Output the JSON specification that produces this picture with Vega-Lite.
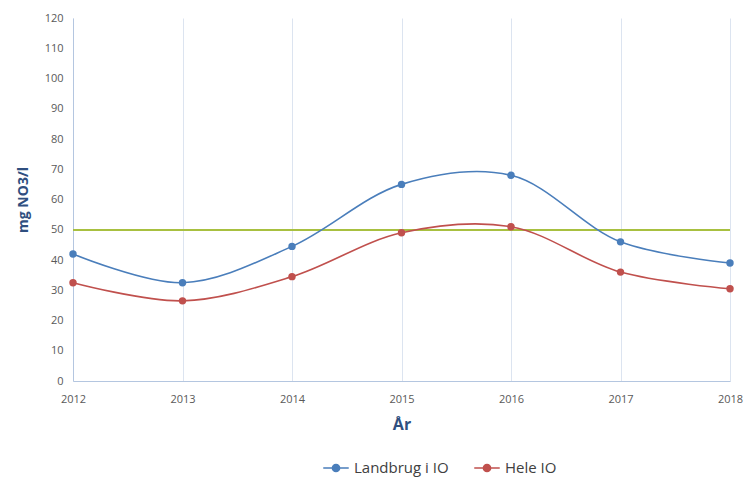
{
  "$schema": "https://vega.github.io/schema/vega-lite/v6.json",
  "width": 657,
  "height": 363,
  "autosize": {"type": "none"},
  "padding": {"left": 73, "top": 18, "right": 16, "bottom": 104},
  "background": "white",
  "config": {
    "view": {"stroke": null},
    "font": "Open Sans",
    "axis": {
      "labelFont": "Open Sans",
      "labelFontSize": 11,
      "labelColor": "#595959",
      "titleFont": "Open Sans",
      "titleColor": "#2f4f7f",
      "titleFontWeight": "bold",
      "gridColor": "#dce4f0",
      "gridWidth": 1,
      "domainColor": "#b4c6e0",
      "ticks": false
    }
  },
  "data": {
    "values": [
      {"year": 2012, "series": "Landbrug i IO", "value": 42},
      {"year": 2013, "series": "Landbrug i IO", "value": 32.5},
      {"year": 2014, "series": "Landbrug i IO", "value": 44.5},
      {"year": 2015, "series": "Landbrug i IO", "value": 65},
      {"year": 2016, "series": "Landbrug i IO", "value": 68},
      {"year": 2017, "series": "Landbrug i IO", "value": 46},
      {"year": 2018, "series": "Landbrug i IO", "value": 39},
      {"year": 2012, "series": "Hele IO", "value": 32.5},
      {"year": 2013, "series": "Hele IO", "value": 26.5},
      {"year": 2014, "series": "Hele IO", "value": 34.5},
      {"year": 2015, "series": "Hele IO", "value": 49},
      {"year": 2016, "series": "Hele IO", "value": 51},
      {"year": 2017, "series": "Hele IO", "value": 36},
      {"year": 2018, "series": "Hele IO", "value": 30.5}
    ]
  },
  "layer": [
    {
      "mark": {"type": "rule", "color": "#a8c040", "strokeWidth": 1.6},
      "encoding": {
        "y": {
          "datum": 50,
          "type": "quantitative",
          "scale": {"domain": [0, 120], "nice": false},
          "axis": {"values": [0, 10, 20, 30, 40, 50, 60, 70, 80, 90, 100, 110, 120], "title": "mg NO3/l", "titleFontSize": 14, "titlePadding": 14, "labelPadding": 10, "labelOverlap": false}
        }
      }
    },
    {
      "mark": {"type": "line", "interpolate": "catmull-rom", "strokeWidth": 1.6, "point": {"filled": true, "size": 55, "opacity": 1}},
      "encoding": {
        "x": {
          "field": "year",
          "type": "quantitative",
          "scale": {"domain": [2012, 2018], "nice": false, "zero": false},
          "axis": {"values": [2012, 2013, 2014, 2015, 2016, 2017, 2018], "format": "d", "title": "År", "titleFontSize": 16, "titlePadding": 12, "labelPadding": 12, "labelFlush": false}
        },
        "y": {
          "field": "value",
          "type": "quantitative",
          "scale": {"domain": [0, 120], "nice": false},
          "axis": {"values": [0, 10, 20, 30, 40, 50, 60, 70, 80, 90, 100, 110, 120], "title": "mg NO3/l", "titleFontSize": 14, "titlePadding": 14, "labelPadding": 10, "labelOverlap": false}
        },
        "color": {
          "field": "series",
          "type": "nominal",
          "scale": {"domain": ["Landbrug i IO", "Hele IO"], "range": ["#4a7ebb", "#c0504d"]},
          "legend": {
            "title": null,
            "orient": "none",
            "direction": "horizontal",
            "legendX": 249,
            "legendY": 436,
            "labelFontSize": 15,
            "labelColor": "#404040",
            "labelFont": "Open Sans",
            "symbolType": "M-1,0L1,0M0.28,0A0.28,0.28,0,1,1,-0.28,0A0.28,0.28,0,1,1,0.28,0",
            "symbolSize": 650,
            "symbolStrokeWidth": 1.6,
            "columnPadding": 22
          }
        }
      }
    }
  ]
}
